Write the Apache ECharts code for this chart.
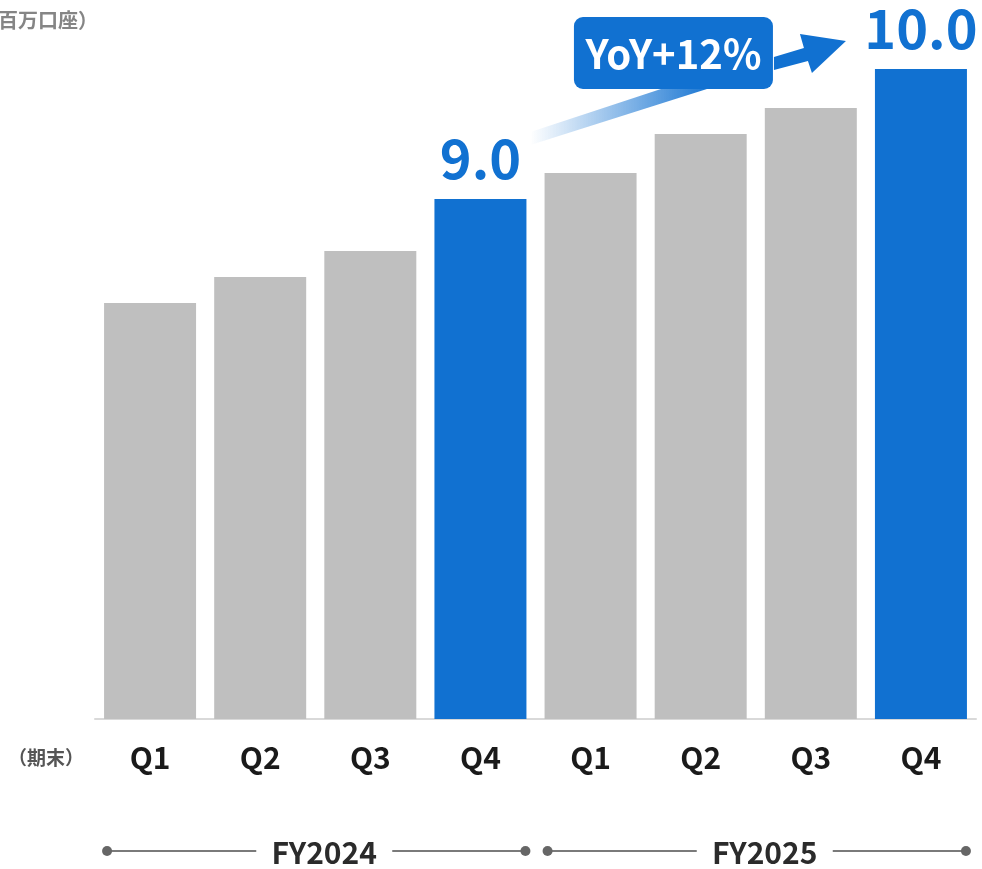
<!DOCTYPE html>
<html>
<head>
<meta charset="utf-8">
<script src="https://cdn.jsdelivr.net/npm/echarts@6/dist/echarts.min.js"></script>
<style>
  html, body { margin: 0; padding: 0; background: #fff; }
  #chart { width: 982px; height: 869px; }
</style>
</head>
<body>
<div id="chart"></div>
<script>
// 口座数（百万口座、期末）
const categories = ['Q1', 'Q2', 'Q3', 'Q4', 'Q1', 'Q2', 'Q3', 'Q4'];
const accounts = [8.2, 8.4, 8.6, 9.0, 9.2, 9.5, 9.7, 10.0];
const highlight = [3, 7];
const fiscalYears = ['FY2024', 'FY2025'];
const yearGroups = [[0, 3], [4, 7]];
const yoyText = 'YoY+12%';
const unitText = '（百万口座）';
const periodText = '（期末）';

const BLUE = '#1171d1';
const GRAY = '#bfbfbf';
const FONT = "'Noto Sans CJK JP', 'Noto Sans', sans-serif";

const chart = echarts.init(document.getElementById('chart'));

chart.setOption({
  animation: false,
  grid: { left: 95, right: 6, top: 4, bottom: 150 },
  xAxis: {
    type: 'category',
    data: categories,
    axisLine: { lineStyle: { color: '#d9d9d9', width: 2 } },
    axisTick: { show: false },
    axisLabel: {
      margin: 24,
      fontSize: 30,
      fontWeight: 'bold',
      fontFamily: FONT,
      color: '#1a1a1a'
    }
  },
  yAxis: {
    type: 'value',
    min: 5,
    max: 10.5,
    show: false,
    splitLine: { show: false }
  },
  series: [{
    type: 'bar',
    barWidth: 92,
    itemStyle: { color: GRAY },
    label: {
      show: false,
      position: 'top',
      distance: 14,
      fontSize: 54,
      fontWeight: 'bold',
      fontFamily: FONT,
      color: BLUE,
      formatter: p => p.value.toFixed(1)
    },
    data: accounts.map((v, i) => highlight.includes(i)
      ? { value: v, itemStyle: { color: BLUE }, label: { show: true } }
      : v)
  }]
});

// 注記・年度ブラケットは棒の位置から計算
const px = i => chart.convertToPixel({ seriesIndex: 0 }, [i, accounts[i]]);
const p9 = px(highlight[0]);
const p10 = px(highlight[1]);
const rel = (p, dx, dy) => [p[0] + dx, p[1] + dy];

const graphics = [];

// 単位・期末ラベル
graphics.push({
  type: 'text', left: -22, top: 10,
  style: { text: unitText, fontSize: 20, fontWeight: 'bold', fontFamily: FONT, fill: '#858585' }
});
graphics.push({
  type: 'text', x: 46, y: 758,
  style: { text: periodText, fontSize: 19, fontWeight: 'bold', fontFamily: FONT, fill: '#555',
    align: 'center', verticalAlign: 'middle' }
});

// グラデーションの帯
graphics.push({
  type: 'polygon', z: 5,
  shape: { points: [rel(p9, 50, -67), rel(p10, -260, 20), rel(p10, -214, 20), rel(p9, 50, -54)] },
  style: {
    fill: { type: 'linear', x: 0, y: 0, x2: 1, y2: 0,
      colorStops: [{ offset: 0, color: 'rgba(17,113,209,0)' }, { offset: 1, color: 'rgba(17,113,209,0.95)' }] }
  }
});

// YoY ボックス
const box = rel(p10, -347, -52);
graphics.push({
  type: 'rect', z: 6,
  shape: { x: box[0], y: box[1], width: 199, height: 72, r: 9 },
  style: { fill: BLUE }
});
graphics.push({
  type: 'text', z: 7, x: box[0] + 99.5, y: box[1] + 37,
  style: { text: yoyText, fontSize: 40, fontWeight: 'bold', fontFamily: FONT, fill: '#fff',
    align: 'center', verticalAlign: 'middle' }
});

// 矢印
graphics.push({
  type: 'polygon', z: 6,
  shape: { points: [
    rel(p10, -147, -12), rel(p10, -117, -21), rel(p10, -121, -35), rel(p10, -75, -28),
    rel(p10, -109, 4), rel(p10, -113, -8), rel(p10, -147, 1)
  ] },
  style: { fill: BLUE }
});

// 年度ブラケット
const lineY = 851;
yearGroups.forEach((g, k) => {
  const x0 = px(g[0])[0] - 43;
  const x1 = px(g[1])[0] + 45;
  const mid = (x0 + x1) / 2 + 8;
  const lineStyle = { stroke: '#7a7a7a', lineWidth: 2 };
  graphics.push({ type: 'line', shape: { x1: x0, y1: lineY, x2: mid - 68, y2: lineY }, style: lineStyle });
  graphics.push({ type: 'line', shape: { x1: mid + 68, y1: lineY, x2: x1, y2: lineY }, style: lineStyle });
  graphics.push({ type: 'circle', shape: { cx: x0, cy: lineY, r: 5 }, style: { fill: '#666' } });
  graphics.push({ type: 'circle', shape: { cx: x1, cy: lineY, r: 5 }, style: { fill: '#666' } });
  graphics.push({
    type: 'text', x: mid, y: lineY + 2,
    style: { text: fiscalYears[k], fontSize: 30, fontWeight: 'bold', fontFamily: FONT, fill: '#2b2b2b',
      align: 'center', verticalAlign: 'middle' }
  });
});

chart.setOption({ graphic: graphics });
</script>
</body>
</html>
